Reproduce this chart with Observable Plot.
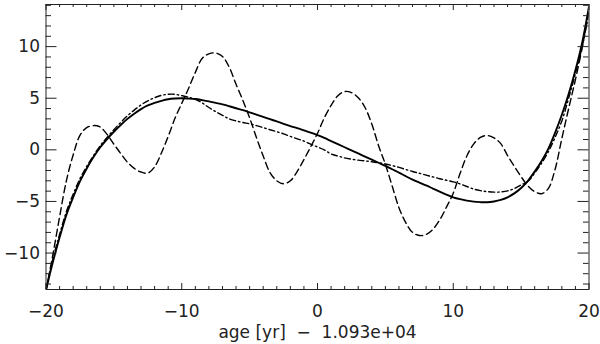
<!DOCTYPE html>
<html>
<head>
<meta charset="utf-8">
<script src="https://cdn.jsdelivr.net/npm/d3@7"></script>
<script src="https://cdn.jsdelivr.net/npm/@observablehq/plot@0.6"></script>
<style>
  html, body { margin: 0; padding: 0; background: #fff; }
  #chart svg { display: block; }
</style>
</head>
<body>
<div id="chart"></div>
<script>
const ages = [-20,-19.5,-19,-18.5,-18,-17.5,-17,-16.5,-16,-15.5,-15,-14.5,-14,-13.5,-13,-12.5,-12,-11.5,-11,-10.5,-10,-9.5,-9,-8.5,-8,-7.5,-7,-6.5,-6,-5.5,-5,-4.5,-4,-3.5,-3,-2.5,-2,-1.5,-1,-0.5,0,0.5,1,1.5,2,2.5,3,3.5,4,4.5,5,5.5,6,6.5,7,7.5,8,8.5,9,9.5,10,10.5,11,11.5,12,12.5,13,13.5,14,14.5,15,15.5,16,16.5,17,17.5,18,18.5,19,19.5,20];

const solidValues = [-13.6,-10.9,-8.5,-6.3,-4.6,-3.05,-1.8,-0.7,0.25,1.05,1.75,2.4,3.0,3.5,3.95,4.3,4.55,4.75,4.9,4.97,5.0,4.97,4.92,4.82,4.7,4.55,4.4,4.22,4.03,3.84,3.63,3.42,3.2,2.97,2.75,2.52,2.3,2.1,1.88,1.66,1.42,1.15,0.85,0.55,0.25,-0.05,-0.35,-0.65,-0.95,-1.25,-1.55,-1.88,-2.2,-2.55,-2.88,-3.17,-3.45,-3.75,-4.05,-4.35,-4.6,-4.78,-4.92,-5.02,-5.07,-5.08,-5.0,-4.85,-4.6,-4.22,-3.7,-3.0,-2.1,-1.1,0.1,1.65,3.4,5.4,7.7,10.4,13.9];

const dashedValues = [-13.6,-10.2,-6.5,-3.0,-0.5,1.4,2.15,2.35,2.2,1.5,0.55,-0.35,-1.2,-1.8,-2.15,-2.25,-1.65,-0.3,1.3,3.05,4.5,5.95,7.5,8.85,9.3,9.38,9.05,8.0,6.35,4.8,3.1,1.2,-0.6,-2.2,-3.0,-3.28,-3.0,-2.1,-0.95,0.3,1.6,3.1,4.3,5.25,5.65,5.55,5.05,4.1,2.5,0.4,-1.4,-3.5,-5.6,-7.05,-8.0,-8.3,-8.2,-7.7,-6.8,-5.55,-4.2,-2.3,-0.6,0.55,1.2,1.39,1.15,0.6,-0.55,-1.6,-2.6,-3.5,-4.05,-4.25,-3.75,-1.9,1.1,4.0,6.8,9.9,13.6];

const dashDotValues = [-13.6,-10.6,-8.2,-6.0,-4.3,-2.8,-1.6,-0.55,0.4,1.2,1.95,2.65,3.3,3.85,4.35,4.75,5.05,5.28,5.38,5.38,5.25,5.1,4.9,4.55,4.1,3.7,3.35,3.0,2.8,2.65,2.52,2.35,2.15,1.95,1.75,1.55,1.3,1.07,0.85,0.55,0.28,0.0,-0.4,-0.6,-0.78,-0.9,-1.0,-1.07,-1.15,-1.25,-1.37,-1.52,-1.7,-1.9,-2.1,-2.27,-2.45,-2.62,-2.8,-2.95,-3.1,-3.3,-3.55,-3.8,-3.95,-4.05,-4.1,-4.08,-3.98,-3.75,-3.4,-3.05,-2.25,-1.3,-0.2,1.2,2.8,5.0,7.4,10.0,13.3];

const xMajorTicks = [-20,-10,0,10,20];
const xMinorTicks = [-19,-18,-17,-16,-15,-14,-13,-12,-11,-9,-8,-7,-6,-5,-4,-3,-2,-1,1,2,3,4,5,6,7,8,9,11,12,13,14,15,16,17,18,19];
const yMajorTicks = [-10,-5,0,5,10];
const yMinorTicks = [-13,-12,-11,-9,-8,-7,-6,-4,-3,-2,-1,1,2,3,4,6,7,8,9,11,12,13,14];
const xLabel = "age [yr]\u00a0 \u2212\u00a0 1.093e+04";

const W = 600, H = 344;
const mL = 45.5, mR = 11.5, mT = 4, mB = 55;
const frameW = W - mL - mR, frameH = H - mT - mB;

const rows = ages.map((a, i) => ({age: a, solid: solidValues[i], dashed: dashedValues[i], dashdot: dashDotValues[i]}));

const ink = "#222";
const fmt = d => d < 0 ? "\u2212" + Math.abs(d) : String(d);

const chart = Plot.plot({
  width: W, height: H,
  marginLeft: mL, marginRight: mR, marginTop: mT, marginBottom: mB,
  style: {fontFamily: "'DejaVu Sans', sans-serif", fontSize: "17px", color: ink, background: "#fff"},
  x: {domain: [-20, 20]},
  y: {domain: [-13.53, 14.08]},
  axis: null,
  marks: [
    Plot.line(rows, {x: "age", y: "dashed", stroke: "#000", strokeWidth: 1.4, strokeDasharray: "7,4", curve: "catmull-rom", clip: true}),
    Plot.line(rows, {x: "age", y: "dashdot", stroke: "#000", strokeWidth: 1.4, strokeDasharray: "6,3,1.5,3", curve: "catmull-rom", clip: true}),
    Plot.line(rows, {x: "age", y: "solid", stroke: "#000", strokeWidth: 1.9, curve: "catmull-rom", clip: true}),
    // inward ticks, bottom & top
    Plot.tickX(xMajorTicks, {x: d => d, insetTop: frameH - 6, stroke: ink}),
    Plot.tickX(xMajorTicks, {x: d => d, insetBottom: frameH - 6, stroke: ink}),
    Plot.tickX(xMinorTicks, {x: d => d, insetTop: frameH - 3, stroke: ink}),
    Plot.tickX(xMinorTicks, {x: d => d, insetBottom: frameH - 3, stroke: ink}),
    // inward ticks, left & right
    Plot.tickY(yMajorTicks, {y: d => d, insetRight: frameW - 11, stroke: ink}),
    Plot.tickY(yMajorTicks, {y: d => d, insetLeft: frameW - 11, stroke: ink}),
    Plot.tickY(yMinorTicks, {y: d => d, insetRight: frameW - 5.5, stroke: ink}),
    Plot.tickY(yMinorTicks, {y: d => d, insetLeft: frameW - 5.5, stroke: ink}),
    Plot.axisX({ticks: xMajorTicks, tickSize: 0, tickPadding: 15, tickFormat: fmt, fontSize: 17, fill: ink,
      label: xLabel, labelAnchor: "center", labelArrow: "none", labelOffset: 48}),
    Plot.axisY({ticks: yMajorTicks, tickSize: 0, tickPadding: 6, tickFormat: fmt, fontSize: 17, fill: ink, label: null}),
    Plot.frame({stroke: ink, strokeWidth: 1})
  ]
});
document.getElementById("chart").append(chart);
</script>
</body>
</html>
